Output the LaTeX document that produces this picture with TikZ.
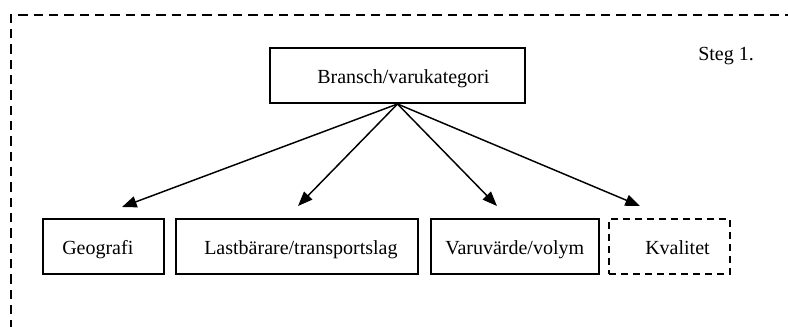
\documentclass[tikz,border=0pt]{standalone}
\usepackage{fontspec}
\setmainfont{Liberation Serif}
\usetikzlibrary{arrows.meta}

\tikzset{
  box/.style={draw, line width=1.5pt, inner sep=0pt},
  dashbox/.style={box, dash pattern=on 5.5pt off 3.5pt},
  lbl/.style={anchor=base west, inner sep=0pt, font=\fontsize{15pt}{18pt}\selectfont},
  link/.style={line width=1.1pt, -{Triangle[length=11pt, width=8.5pt]}},
  frame/.style={line width=1.5pt, dash pattern=on 7pt off 4.5pt}
}

\begin{document}
\begin{tikzpicture}[x=0.75pt, y=-0.75pt]
  \useasboundingbox (0,0) rectangle (788,327);
  \clip (0,0) rectangle (788,327);

  % outer dashed frame, running off the right and bottom edges
  \draw[frame] (11,345) -- (11,15) -- (810,15);

  % top category box
  \node[box, minimum width=255*0.75pt, minimum height=55*0.75pt] (top) at (397.5,75.5) {};
  \node[lbl] (toptxt) at (317,84) {Bransch/varukategori};

  \node[lbl] (steg) at (698,61) {Steg 1.};

  % lower boxes
  \node[box, minimum width=121*0.75pt, minimum height=55*0.75pt] (geo) at (103.5,246.5) {};
  \node[lbl] (geotxt) at (62,255) {Geografi};

  \node[box, minimum width=242*0.75pt, minimum height=55*0.75pt] (last) at (297,246.5) {};
  \node[lbl] (lasttxt) at (204,255) {Lastbärare/transportslag};

  \node[box, minimum width=168*0.75pt, minimum height=55*0.75pt] (varu) at (515,246.5) {};
  \node[lbl] (varutxt) at (445,255) {Varuvärde/volym};

  \node[dashbox, minimum width=121*0.75pt, minimum height=55*0.75pt] (kval) at (669.5,246.5) {};
  \node[lbl] (kvaltxt) at (645,255) {Kvalitet};

  % arrow end points above the lower boxes
  \coordinate (geoend) at (122,207);
  \coordinate (lastend) at (298,206);
  \coordinate (varuend) at (497,206);
  \coordinate (kvalend) at (640,206);

  \draw[link] (top.south) -- (geoend);
  \draw[link] (top.south) -- (lastend);
  \draw[link] (top.south) -- (varuend);
  \draw[link] (top.south) -- (kvalend);
\end{tikzpicture}
\end{document}
